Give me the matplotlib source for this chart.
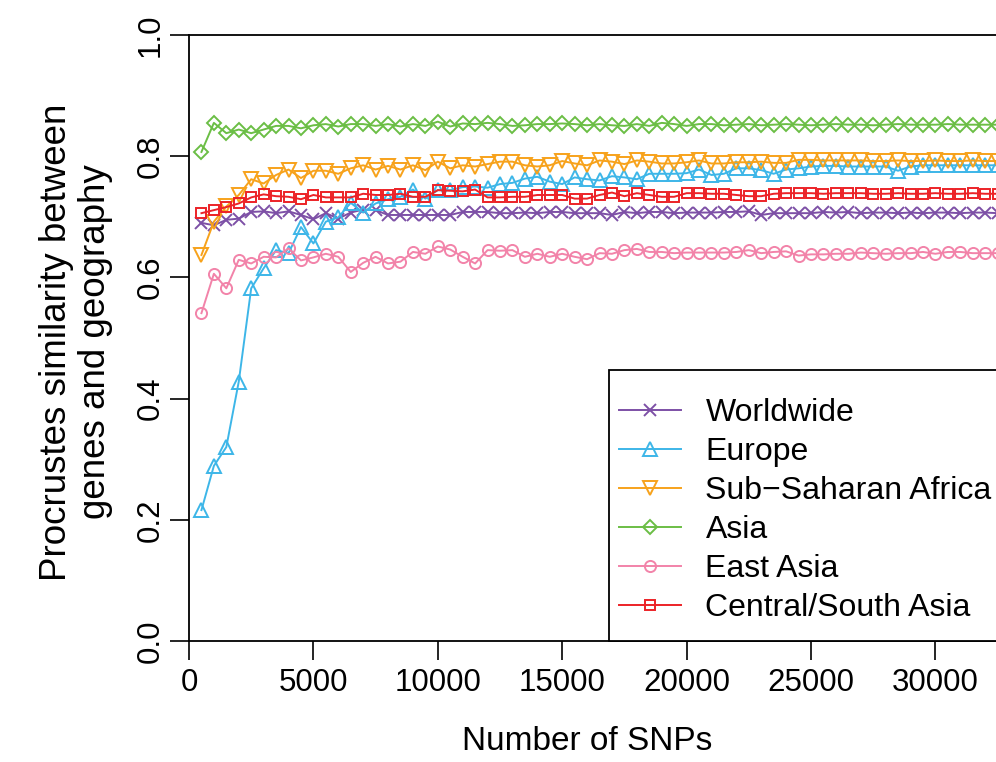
import numpy as np
import matplotlib
matplotlib.use('Agg')
import matplotlib.pyplot as plt
from matplotlib.patches import Rectangle

plt.rcParams['font.family'] = ['Liberation Sans', 'DejaVu Sans']

snps = np.arange(500, 33000, 500)

worldwide = [0.690, 0.686, 0.695, 0.697, 0.708, 0.709, 0.706, 0.709, 0.703, 0.696,
             0.706, 0.697, 0.707, 0.712, 0.711, 0.703, 0.703, 0.703, 0.703, 0.703,
             0.703, 0.708, 0.708, 0.708, 0.706, 0.706, 0.707, 0.706, 0.708, 0.708,
             0.706, 0.706, 0.706, 0.703, 0.708, 0.706, 0.708, 0.708, 0.706, 0.707,
             0.707, 0.707, 0.708, 0.708, 0.709, 0.703, 0.706, 0.706, 0.706, 0.706,
             0.708, 0.707, 0.708, 0.706, 0.707, 0.707, 0.706, 0.707, 0.706, 0.707,
             0.707, 0.706, 0.707, 0.707, 0.706]
europe = [0.216, 0.289, 0.320, 0.428, 0.582, 0.615, 0.645, 0.640, 0.683, 0.656,
          0.692, 0.699, 0.723, 0.707, 0.722, 0.729, 0.733, 0.745, 0.730, 0.744,
          0.744, 0.749, 0.750, 0.748, 0.754, 0.756, 0.763, 0.766, 0.758, 0.754,
          0.765, 0.762, 0.760, 0.767, 0.765, 0.762, 0.771, 0.771, 0.771, 0.772,
          0.778, 0.769, 0.771, 0.780, 0.780, 0.777, 0.771, 0.778, 0.780, 0.783,
          0.784, 0.784, 0.783, 0.783, 0.783, 0.783, 0.776, 0.783, 0.785, 0.785,
          0.785, 0.785, 0.785, 0.785, 0.785]
subsaharan = [0.637, 0.692, 0.717, 0.736, 0.762, 0.755, 0.769, 0.778, 0.764, 0.776,
              0.776, 0.771, 0.780, 0.785, 0.778, 0.784, 0.778, 0.785, 0.777, 0.791,
              0.780, 0.785, 0.783, 0.787, 0.791, 0.791, 0.785, 0.783, 0.785, 0.792,
              0.788, 0.785, 0.793, 0.791, 0.787, 0.793, 0.791, 0.788, 0.788, 0.790,
              0.793, 0.788, 0.788, 0.790, 0.790, 0.791, 0.789, 0.789, 0.794, 0.794,
              0.793, 0.793, 0.793, 0.793, 0.792, 0.792, 0.793, 0.792, 0.792, 0.793,
              0.792, 0.792, 0.793, 0.792, 0.792]
asia = [0.807, 0.855, 0.838, 0.844, 0.838, 0.844, 0.850, 0.850, 0.846, 0.851,
        0.853, 0.849, 0.853, 0.853, 0.850, 0.853, 0.849, 0.853, 0.850, 0.857,
        0.849, 0.854, 0.853, 0.855, 0.853, 0.850, 0.851, 0.853, 0.853, 0.854,
        0.853, 0.851, 0.853, 0.851, 0.850, 0.853, 0.850, 0.855, 0.853, 0.850,
        0.853, 0.853, 0.851, 0.852, 0.853, 0.851, 0.852, 0.853, 0.852, 0.851,
        0.852, 0.853, 0.852, 0.852, 0.851, 0.852, 0.853, 0.852, 0.852, 0.852,
        0.853, 0.852, 0.852, 0.852, 0.852]
east_asia = [0.541, 0.606, 0.582, 0.629, 0.623, 0.634, 0.633, 0.648, 0.628, 0.633,
             0.639, 0.634, 0.609, 0.624, 0.634, 0.623, 0.626, 0.642, 0.639, 0.651,
             0.646, 0.634, 0.623, 0.645, 0.644, 0.645, 0.634, 0.639, 0.634, 0.639,
             0.634, 0.630, 0.640, 0.639, 0.645, 0.647, 0.642, 0.642, 0.640, 0.641,
             0.641, 0.641, 0.641, 0.642, 0.645, 0.640, 0.642, 0.643, 0.636, 0.638,
             0.638, 0.639, 0.639, 0.641, 0.640, 0.639, 0.640, 0.640, 0.642, 0.639,
             0.642, 0.642, 0.640, 0.640, 0.640]
central_south = [0.706, 0.711, 0.716, 0.722, 0.732, 0.737, 0.734, 0.733, 0.729, 0.736,
                 0.732, 0.732, 0.732, 0.738, 0.736, 0.736, 0.738, 0.733, 0.733, 0.744,
                 0.743, 0.742, 0.745, 0.732, 0.732, 0.733, 0.733, 0.736, 0.736, 0.736,
                 0.730, 0.730, 0.736, 0.740, 0.734, 0.739, 0.736, 0.733, 0.733, 0.739,
                 0.739, 0.738, 0.738, 0.736, 0.734, 0.734, 0.738, 0.739, 0.739, 0.739,
                 0.738, 0.739, 0.739, 0.739, 0.738, 0.738, 0.739, 0.738, 0.738, 0.739,
                 0.738, 0.738, 0.739, 0.738, 0.738]

series = [
    ("Worldwide", worldwide, '#7D50A6', 'x', 8),
    ("Europe", europe, '#3DB6E8', '^', 10),
    ("Sub\u2212Saharan Africa", subsaharan, '#F7A21B', 'v', 10),
    ("Asia", asia, '#6BBE45', 'D', 7.5),
    ("East Asia", east_asia, '#F283A9', 'o', 8),
    ("Central/South Asia", central_south, '#EC2227', 's', 7.5),
]

fig = plt.figure(figsize=(9.96, 7.62), dpi=100)
ax = fig.add_axes([189 / 996, 121 / 762, 808.6 / 996, 606 / 762])

handles = []
for name, vals, col, mk, ms in series:
    h, = ax.plot(snps, vals, color=col, marker=mk, ms=ms, mfc='none', mec=col,
                 mew=1.4, lw=1.4, label=name, clip_on=False)
    handles.append(h)

ax.set_xlim(0, 32500)
ax.set_ylim(0, 1)
ax.set_xticks([0, 5000, 10000, 15000, 20000, 25000, 30000])
ax.set_yticks([0.0, 0.2, 0.4, 0.6, 0.8, 1.0])
ax.set_yticklabels(["0.0", "0.2", "0.4", "0.6", "0.8", "1.0"])
for s in ['left', 'top', 'bottom']:
    ax.spines[s].set_linewidth(1.3)
ax.spines['right'].set_visible(False)
ax.tick_params(direction='out', length=13.5, width=1.2, labelsize=22.5, colors='black')
ax.tick_params(axis='x', pad=6)
ax.tick_params(axis='y', pad=3)
for lab in ax.get_yticklabels():
    lab.set_rotation(90)
    lab.set_va('center')

fig.text(587 / 996, 1 - 741 / 762, "Number of SNPs", ha='center', va='center', fontsize=24)
fig.text(76 / 996, 1 - 342 / 762, "Procrustes similarity between\ngenes and geography",
         ha='center', va='center', rotation=90, fontsize=26.5, multialignment='center',
         linespacing=1.12)

# legend box
x0 = (609 - 189) / 808.6
ax.add_patch(Rectangle((x0, 0), 1.2, (641 - 370) / 606, transform=ax.transAxes,
                       facecolor='white', edgecolor='black', lw=1.3, zorder=5, clip_on=False))
leg = ax.legend(handles=handles, loc='upper left', bbox_to_anchor=(x0, (641 - 388) / 606),
                frameon=False, fontsize=23, handlelength=1.92, handletextpad=0.78,
                labelspacing=0.28, borderpad=0.32, borderaxespad=0)
leg.set_zorder(6)

plt.savefig("out.png", dpi=100)
plt.close()
